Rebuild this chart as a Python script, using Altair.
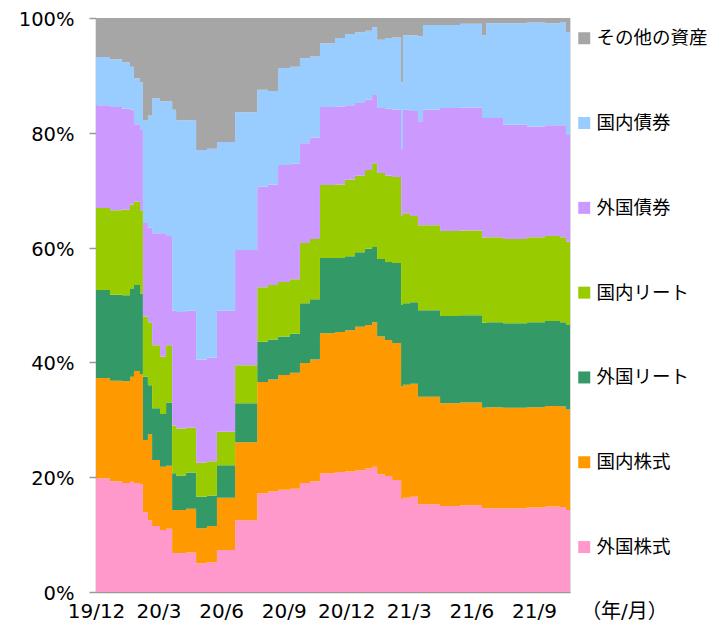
import altair as alt
import pandas as pd

# x position in months since 2019/12
months = [0.00, 0.67, 1.25, 1.63, 1.82, 2.11, 2.25, 2.49, 2.69, 3.07, 3.36, 3.65, 3.84,
          4.32, 4.80, 5.32, 5.80, 6.67, 7.73, 8.25, 8.73, 9.30, 9.78, 10.26, 10.74,
          11.46, 11.94, 12.42, 12.90, 13.24, 13.48, 13.86, 14.20, 14.63, 14.72, 15.06,
          15.44, 15.68, 16.50, 17.46, 18.51, 18.71, 19.52, 20.67, 21.53, 22.25, 22.54, 22.73]

# cumulative upper boundary (%) of each band, bottom to top
cum_foreign_eq = [19.8, 19.3, 19.0, 19.2, 19.0, 18.8, 13.9, 12.5, 11.5, 10.8, 11.0, 6.8, 6.8,
                  6.9, 5.0, 5.2, 7.3, 12.5, 17.2, 17.5, 17.8, 18.0, 19.0, 19.3, 20.7,
                  20.9, 21.0, 21.2, 21.5, 21.8, 20.5, 20.2, 19.5, 16.2, 16.4, 16.6,
                  15.3, 15.3, 15.0, 15.1, 14.6, 14.6, 14.6, 14.7, 14.9, 14.8, 14.3, 14.3]
cum_dom_eq = [37.3, 36.8, 36.7, 37.5, 38.5, 38.0, 26.5, 27.5, 23.0, 21.8, 22.0, 14.3, 14.3,
              14.5, 11.1, 11.5, 16.4, 26.1, 36.6, 37.0, 37.8, 38.2, 39.9, 40.5, 45.1,
              45.3, 45.6, 46.2, 46.5, 47.0, 44.5, 43.9, 43.4, 35.8, 36.1, 36.3,
              34.0, 34.0, 32.9, 33.0, 32.1, 32.2, 32.1, 32.2, 32.4, 32.3, 31.8, 31.8]
cum_foreign_reit = [52.6, 51.8, 51.7, 52.8, 53.5, 52.0, 37.5, 36.0, 32.0, 31.0, 33.0, 20.7, 20.3,
                    20.8, 16.6, 16.8, 22.1, 32.9, 43.6, 44.0, 44.5, 45.0, 50.3, 51.0, 58.2,
                    58.2, 58.5, 59.2, 59.8, 60.1, 58.0, 57.5, 57.3, 50.0, 50.3, 50.5,
                    49.1, 49.1, 48.1, 48.2, 46.9, 47.0, 46.8, 47.0, 47.2, 47.0, 46.5, 46.5]
cum_dom_reit = [66.9, 66.5, 66.6, 67.5, 68.0, 66.5, 48.0, 47.0, 43.0, 41.0, 43.0, 29.0, 28.5,
                28.6, 22.5, 22.8, 27.9, 39.5, 53.1, 53.5, 54.0, 54.5, 60.8, 61.5, 70.9,
                71.0, 71.8, 72.5, 73.5, 74.7, 73.0, 72.5, 72.3, 65.5, 66.0, 65.5,
                63.9, 63.9, 62.9, 63.0, 61.7, 61.8, 61.5, 61.8, 62.0, 61.8, 61.0, 61.0]
cum_foreign_bond = [84.8, 84.5, 84.2, 84.0, 81.5, 80.5, 64.3, 63.5, 62.5, 62.5, 62.0, 49.0, 48.8,
                    49.0, 40.5, 40.8, 49.0, 59.6, 70.6, 71.0, 74.4, 74.6, 78.2, 79.2, 84.5,
                    84.6, 84.8, 85.2, 85.8, 86.6, 84.3, 84.2, 84.0, 77.3, 84.0, 83.8,
                    82.0, 84.0, 84.3, 84.4, 82.6, 82.6, 81.4, 81.1, 81.3, 81.3, 79.6, 79.6]
cum_dom_bond = [93.2, 92.8, 92.3, 91.5, 89.5, 88.8, 82.2, 83.0, 86.0, 85.5, 85.5, 84.0, 82.2,
                82.2, 77.0, 77.2, 78.4, 83.6, 87.5, 87.3, 91.3, 91.5, 93.0, 93.3, 95.6,
                96.5, 97.2, 97.5, 97.8, 98.4, 96.2, 96.5, 96.6, 88.8, 97.0, 97.0,
                96.8, 98.8, 98.8, 99.0, 97.0, 99.1, 99.1, 99.2, 99.1, 99.2, 97.5, 97.5]
cum_total = [100.0] * len(months)
cum_zero = [0.0] * len(months)

series = ["その他の資産", "国内債券", "外国債券", "国内リート", "外国リート", "国内株式", "外国株式"]
colors = ["#A6A6A6", "#99CCFF", "#CC99FF", "#99CC00", "#339966", "#FF9900", "#FF99CC"]
x_labels = ["19/12", "20/3", "20/6", "20/9", "20/12", "21/3", "21/6", "21/9"]
y_ticks = [0, 20, 40, 60, 80, 100]

bands = [
    ("外国株式", cum_zero, cum_foreign_eq),
    ("国内株式", cum_foreign_eq, cum_dom_eq),
    ("外国リート", cum_dom_eq, cum_foreign_reit),
    ("国内リート", cum_foreign_reit, cum_dom_reit),
    ("外国債券", cum_dom_reit, cum_foreign_bond),
    ("国内債券", cum_foreign_bond, cum_dom_bond),
    ("その他の資産", cum_dom_bond, cum_total),
]
rows = []
for name, lo, hi in bands:
    for m, a, b in zip(months, lo, hi):
        rows.append({"series": name, "m": m, "lo": a, "hi": b})
df = pd.DataFrame(rows)

label_expr = "[" + ",".join("'%s'" % s for s in x_labels) + "][round(datum.value/3)]"

FONT = "DejaVu Sans, Noto Sans CJK JP"

chart = alt.Chart(df).mark_area(interpolate="step-after", strokeWidth=0).encode(
    x=alt.X("m:Q", scale=alt.Scale(domain=[0, 22.73], nice=False, zero=False),
            axis=alt.Axis(values=[0, 3, 6, 9, 12, 15, 18, 21], labelExpr=label_expr,
                          ticks=False, tickSize=0, labelPadding=9, labelFlush=False,
                          labelOverlap=False, grid=False, domainColor="#999999",
                          domainWidth=1.5, labelFontSize=20, labelColor="#000000",
                          labelFont=FONT, title="（年/月）", titleX=528, titleY=9,
                          titleBaseline="top", titleAlign="center",
                          titleFontSize=20, titleFontWeight="normal", titleFont=FONT,
                          titleColor="#000000")),
    y=alt.Y("lo:Q", scale=alt.Scale(domain=[0, 100], nice=False),
            axis=alt.Axis(values=y_ticks, labelExpr="datum.value + '%'", grid=False,
                          tickSize=7, tickColor="#999999", tickWidth=1.5,
                          domainColor="#999999", domainWidth=1.5, labelPadding=15,
                          labelOffset=1.5, labelFontSize=19.5, labelColor="#000000",
                          labelFont=FONT, title=None)),
    y2="hi:Q",
    color=alt.Color("series:N", scale=alt.Scale(domain=series, range=colors),
                    legend=alt.Legend(title=None, orient="none", legendX=479, legendY=11,
                                      symbolType="square", symbolSize=144,
                                      symbolStrokeWidth=0, symbolOpacity=1,
                                      labelFontSize=18.5, labelFont=FONT,
                                      labelColor="#000000", labelOffset=3,
                                      labelLimit=200,
                                      rowPadding=65.8, padding=0)),
).properties(
    width=474, height=574,
    autosize=alt.AutoSizeParams(type="none"),
    padding={"left": 88, "top": 10, "right": 137, "bottom": 35},
).configure_view(stroke=None).configure(font=FONT)

chart.save("out.html", embed_options={"renderer": "svg", "actions": False})
